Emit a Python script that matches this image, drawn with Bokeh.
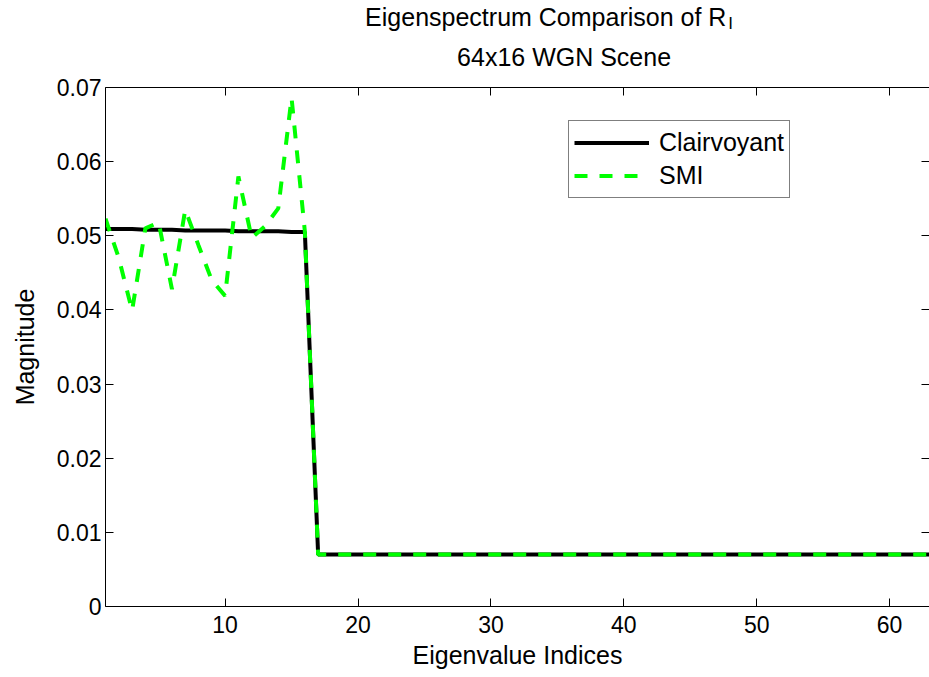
from bokeh.plotting import figure
from bokeh.layouts import column
from bokeh.models import FixedTicker, LinearAxis, Label, Legend, LegendItem, Range1d
from bokeh.embed import file_html
from bokeh.resources import INLINE

# ---------------- data ----------------
eig_index = list(range(1, 65))

clairvoyant = [
    0.0509, 0.0509, 0.0509, 0.0508, 0.0508, 0.0508, 0.0507, 0.0507,
    0.0507, 0.0507, 0.0506, 0.0506, 0.0506, 0.0506, 0.0505, 0.0505,
    0.0070, 0.0070, 0.0070, 0.0070, 0.0070, 0.0070, 0.0070, 0.0070,
    0.0070, 0.0070, 0.0070, 0.0070, 0.0070, 0.0070, 0.0070, 0.0070,
    0.0070, 0.0070, 0.0070, 0.0070, 0.0070, 0.0070, 0.0070, 0.0070,
    0.0070, 0.0070, 0.0070, 0.0070, 0.0070, 0.0070, 0.0070, 0.0070,
    0.0070, 0.0070, 0.0070, 0.0070, 0.0070, 0.0070, 0.0070, 0.0070,
    0.0070, 0.0070, 0.0070, 0.0070, 0.0070, 0.0070, 0.0070, 0.0070,
]

smi = [
    0.0523, 0.0470, 0.0399, 0.0510, 0.0518, 0.0428, 0.0535, 0.0487,
    0.0440, 0.0419, 0.0580, 0.0497, 0.0513, 0.0537, 0.0686, 0.0506,
    0.0070, 0.0070, 0.0070, 0.0070, 0.0070, 0.0070, 0.0070, 0.0070,
    0.0070, 0.0070, 0.0070, 0.0070, 0.0070, 0.0070, 0.0070, 0.0070,
    0.0070, 0.0070, 0.0070, 0.0070, 0.0070, 0.0070, 0.0070, 0.0070,
    0.0070, 0.0070, 0.0070, 0.0070, 0.0070, 0.0070, 0.0070, 0.0070,
    0.0070, 0.0070, 0.0070, 0.0070, 0.0070, 0.0070, 0.0070, 0.0070,
    0.0070, 0.0070, 0.0070, 0.0070, 0.0070, 0.0070, 0.0070, 0.0070,
]

x_ticks = [10, 20, 30, 40, 50, 60]
y_ticks = [0.0, 0.01, 0.02, 0.03, 0.04, 0.05, 0.06, 0.07]
y_tick_labels = ["0", "0.01", "0.02", "0.03", "0.04", "0.05", "0.06", "0.07"]

series_names = ["Clairvoyant", "SMI"]
title_main = "Eigenspectrum Comparison of R"
title_sub = "I"
title_line2 = "64x16 WGN Scene"
x_label = "Eigenvalue Indices"
y_label = "Magnitude"

# ---------------- styling ----------------
FONT = "Liberation Sans"
FS_TICK = "23px"
FS = "25px"
HEADER_H = 76
TOTAL_H = 677
W = 929

# ---------------- header (two-line title with subscript) ----------------
header = figure(
    width=W, height=HEADER_H, title=None,
    output_backend="svg", toolbar_location=None,
    x_range=Range1d(0, W), y_range=Range1d(HEADER_H, 0),
    x_axis_location=None, y_axis_location=None,
    min_border=0, min_border_left=0, min_border_right=0,
    min_border_top=0, min_border_bottom=0,
    outline_line_color=None,
    background_fill_color="white", border_fill_color="white",
)
header.grid.visible = False
header.add_layout(Label(x=700, y=16, text=title_main, text_font=FONT,
                        text_font_size=FS, text_color="black",
                        text_align="right", text_baseline="alphabetic"))
header.add_layout(Label(x=702, y=23, text=title_sub, text_font=FONT,
                        text_font_size="17px", text_color="black",
                        text_align="left", text_baseline="alphabetic"))
header.add_layout(Label(x=517, y=56, text=title_line2, text_font=FONT,
                        text_font_size=FS, text_color="black",
                        text_align="center", text_baseline="alphabetic"))

# ---------------- main plot ----------------
p = figure(
    width=W, height=TOTAL_H - HEADER_H, title=None,
    output_backend="svg", toolbar_location=None,
    x_range=Range1d(1, 63), y_range=Range1d(0, 0.07),
    min_border_left=105, min_border_right=0,
    min_border_top=87 - HEADER_H, min_border_bottom=71,
    background_fill_color="white", border_fill_color="white",
    outline_line_color=None,
)
p.grid.visible = False


def style_axis(ax, labels=True):
    ax.axis_line_color = "black"
    ax.axis_line_width = 1
    ax.major_tick_in = 8
    ax.major_tick_out = 0
    ax.major_tick_line_color = "black"
    ax.minor_tick_line_color = None
    ax.major_label_text_font = FONT
    if labels:
        ax.major_label_text_font_size = FS_TICK
        ax.major_label_text_color = "black"
    else:
        ax.major_label_text_font_size = "0px"
        ax.major_label_text_color = None
        ax.major_label_standoff = 0


xb = p.xaxis[0]
style_axis(xb)
xb.ticker = FixedTicker(ticks=x_ticks)
xb.major_label_standoff = 9
xb.axis_label = x_label
xb.axis_label_text_font = FONT
xb.axis_label_text_font_size = FS
xb.axis_label_text_font_style = "normal"
xb.axis_label_text_color = "black"
xb.axis_label_standoff = 5

yl = p.yaxis[0]
style_axis(yl)
yl.ticker = FixedTicker(ticks=y_ticks)
yl.major_label_overrides = {t: s for t, s in zip(y_ticks, y_tick_labels)}
yl.major_label_standoff = 4
yl.axis_label = y_label
yl.axis_label_text_font = FONT
yl.axis_label_text_font_size = FS
yl.axis_label_text_font_style = "normal"
yl.axis_label_text_color = "black"
yl.axis_label_standoff = 15

xt = LinearAxis(ticker=FixedTicker(ticks=x_ticks))
style_axis(xt, labels=False)
p.add_layout(xt, "above")

yr = LinearAxis(ticker=FixedTicker(ticks=y_ticks))
style_axis(yr, labels=False)
yr.axis_line_color = None
p.add_layout(yr, "right")

r1 = p.line(eig_index, clairvoyant, line_color="black", line_width=4)
r2 = p.line(eig_index, smi, line_color="#00ff00", line_width=4, line_dash="13 12")

legend = Legend(
    items=[LegendItem(label=series_names[0], renderers=[r1]),
           LegendItem(label=series_names[1], renderers=[r2])],
    location=(463, 408),
    border_line_color="black", border_line_width=1,
    background_fill_color="white", background_fill_alpha=1,
    label_text_font=FONT, label_text_font_size=FS, label_text_color="black",
    glyph_width=75, glyph_height=33, label_height=33,
    label_standoff=10, padding=5, spacing=0, margin=0,
)
p.add_layout(legend)

layout = column(header, p, spacing=0)
open("out.html", "w").write(file_html(layout, INLINE))
